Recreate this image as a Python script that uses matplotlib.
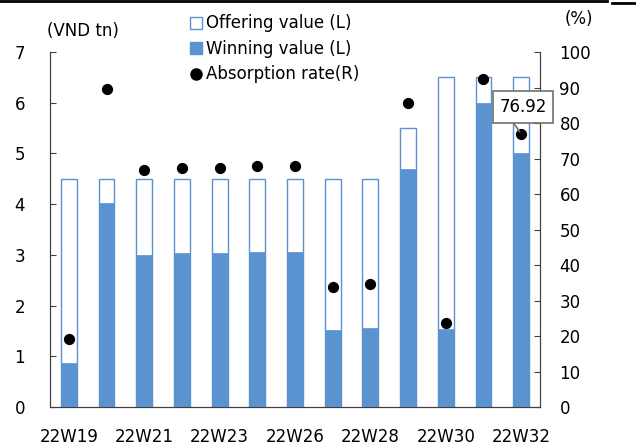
import matplotlib.pyplot as plt
from matplotlib.lines import Line2D
import numpy as np

weeks = ["22W19", "22W20", "22W21", "22W22", "22W23", "22W25", "22W26",
         "22W27", "22W28", "22W29", "22W30", "22W31", "22W32"]
offering = [4.5, 4.5, 4.5, 4.5, 4.5, 4.5, 4.5, 4.5, 4.5, 5.5, 6.5, 6.5, 6.5]
winning = [0.87, 4.03, 3.0, 3.03, 3.03, 3.06, 3.05, 1.52, 1.56, 4.7, 1.54, 6.0, 5.0]
absorption = [19.3, 89.6, 66.7, 67.3, 67.3, 68.0, 67.8, 33.8, 34.7, 85.5, 23.7, 92.3, 76.92]

blue = "#5B93D0"
axcol = "#404040"
plt.rcParams["font.family"] = "DejaVu Sans"
plt.rcParams["font.size"] = 12

fig = plt.figure(figsize=(6.36, 4.46), dpi=100)
ax = fig.add_axes([0.0786, 0.0874, 0.849 - 0.0786, 0.8834 - 0.0874])
x = np.arange(len(weeks))
w = 0.42

ax.bar(x, offering, width=w, color="white", edgecolor=blue, linewidth=1.0, zorder=2)
ax.bar(x, winning, width=w, color=blue, edgecolor=blue, linewidth=0.5, zorder=3)
ax.set_xlim(-0.5, len(weeks) - 0.5)
ax.set_ylim(0, 7)
ax.set_yticks(range(0, 8))
ax.set_xticks(x)
ax.set_xticklabels([lab if i % 2 == 0 else "" for i, lab in enumerate(weeks)])
ax.tick_params(axis="both", direction="in", color=axcol, length=4)
ax.tick_params(axis="y", pad=18)
ax.tick_params(axis="x", pad=15)
ax.spines["top"].set_visible(False)
for s in ["left", "bottom", "right"]:
    ax.spines[s].set_color(axcol)

ax2 = ax.twinx()
ax2.scatter(x, absorption, s=50, color="black", zorder=5)
ax2.set_ylim(0, 100)
ax2.set_yticks(range(0, 101, 10))
ax2.tick_params(axis="y", direction="in", color=axcol, length=4, pad=14)
ax2.spines["top"].set_visible(False)
for s in ["left", "bottom", "right"]:
    ax2.spines[s].set_color(axcol)

ax2.annotate("76.92", xy=(x[-1], absorption[-1]), xytext=(x[-1] + 0.05, 84.5),
             ha="center", va="center", fontsize=12,
             bbox=dict(boxstyle="square,pad=0.4", fc="white", ec="#707070", lw=1.2),
             arrowprops=dict(arrowstyle="-", color="#707070", lw=1.2,
                             relpos=(0.2, 0.0), shrinkA=0, shrinkB=2),
             zorder=6)

fig.text(0.074, 0.93, "(VND tn)", ha="left", va="center", fontsize=12)
fig.text(0.91, 0.957, "(%)", ha="center", va="center", fontsize=12)

handles = [
    Line2D([], [], marker="s", ls="none", markersize=9, markerfacecolor="white",
           markeredgecolor=blue, markeredgewidth=1.0),
    Line2D([], [], marker="s", ls="none", markersize=9, markerfacecolor=blue,
           markeredgecolor=blue),
    Line2D([], [], marker="o", ls="none", markersize=8, markerfacecolor="black",
           markeredgecolor="black"),
]
labels = ["Offering value (L)", "Winning value (L)", "Absorption rate(R)"]
fig.legend(handles, labels, loc="upper left", bbox_to_anchor=(0.295, 0.975),
           frameon=False, handlelength=0.6, handletextpad=0.3, labelspacing=0.45,
           borderaxespad=0, borderpad=0.2, fontsize=12)

fig.add_artist(Line2D([0, 0.955], [0.997, 0.997], color="black", lw=2.0))
fig.add_artist(Line2D([0.962, 1.0], [0.994, 0.994], color="black", lw=2.0))

fig.savefig("out.png", dpi=100)
